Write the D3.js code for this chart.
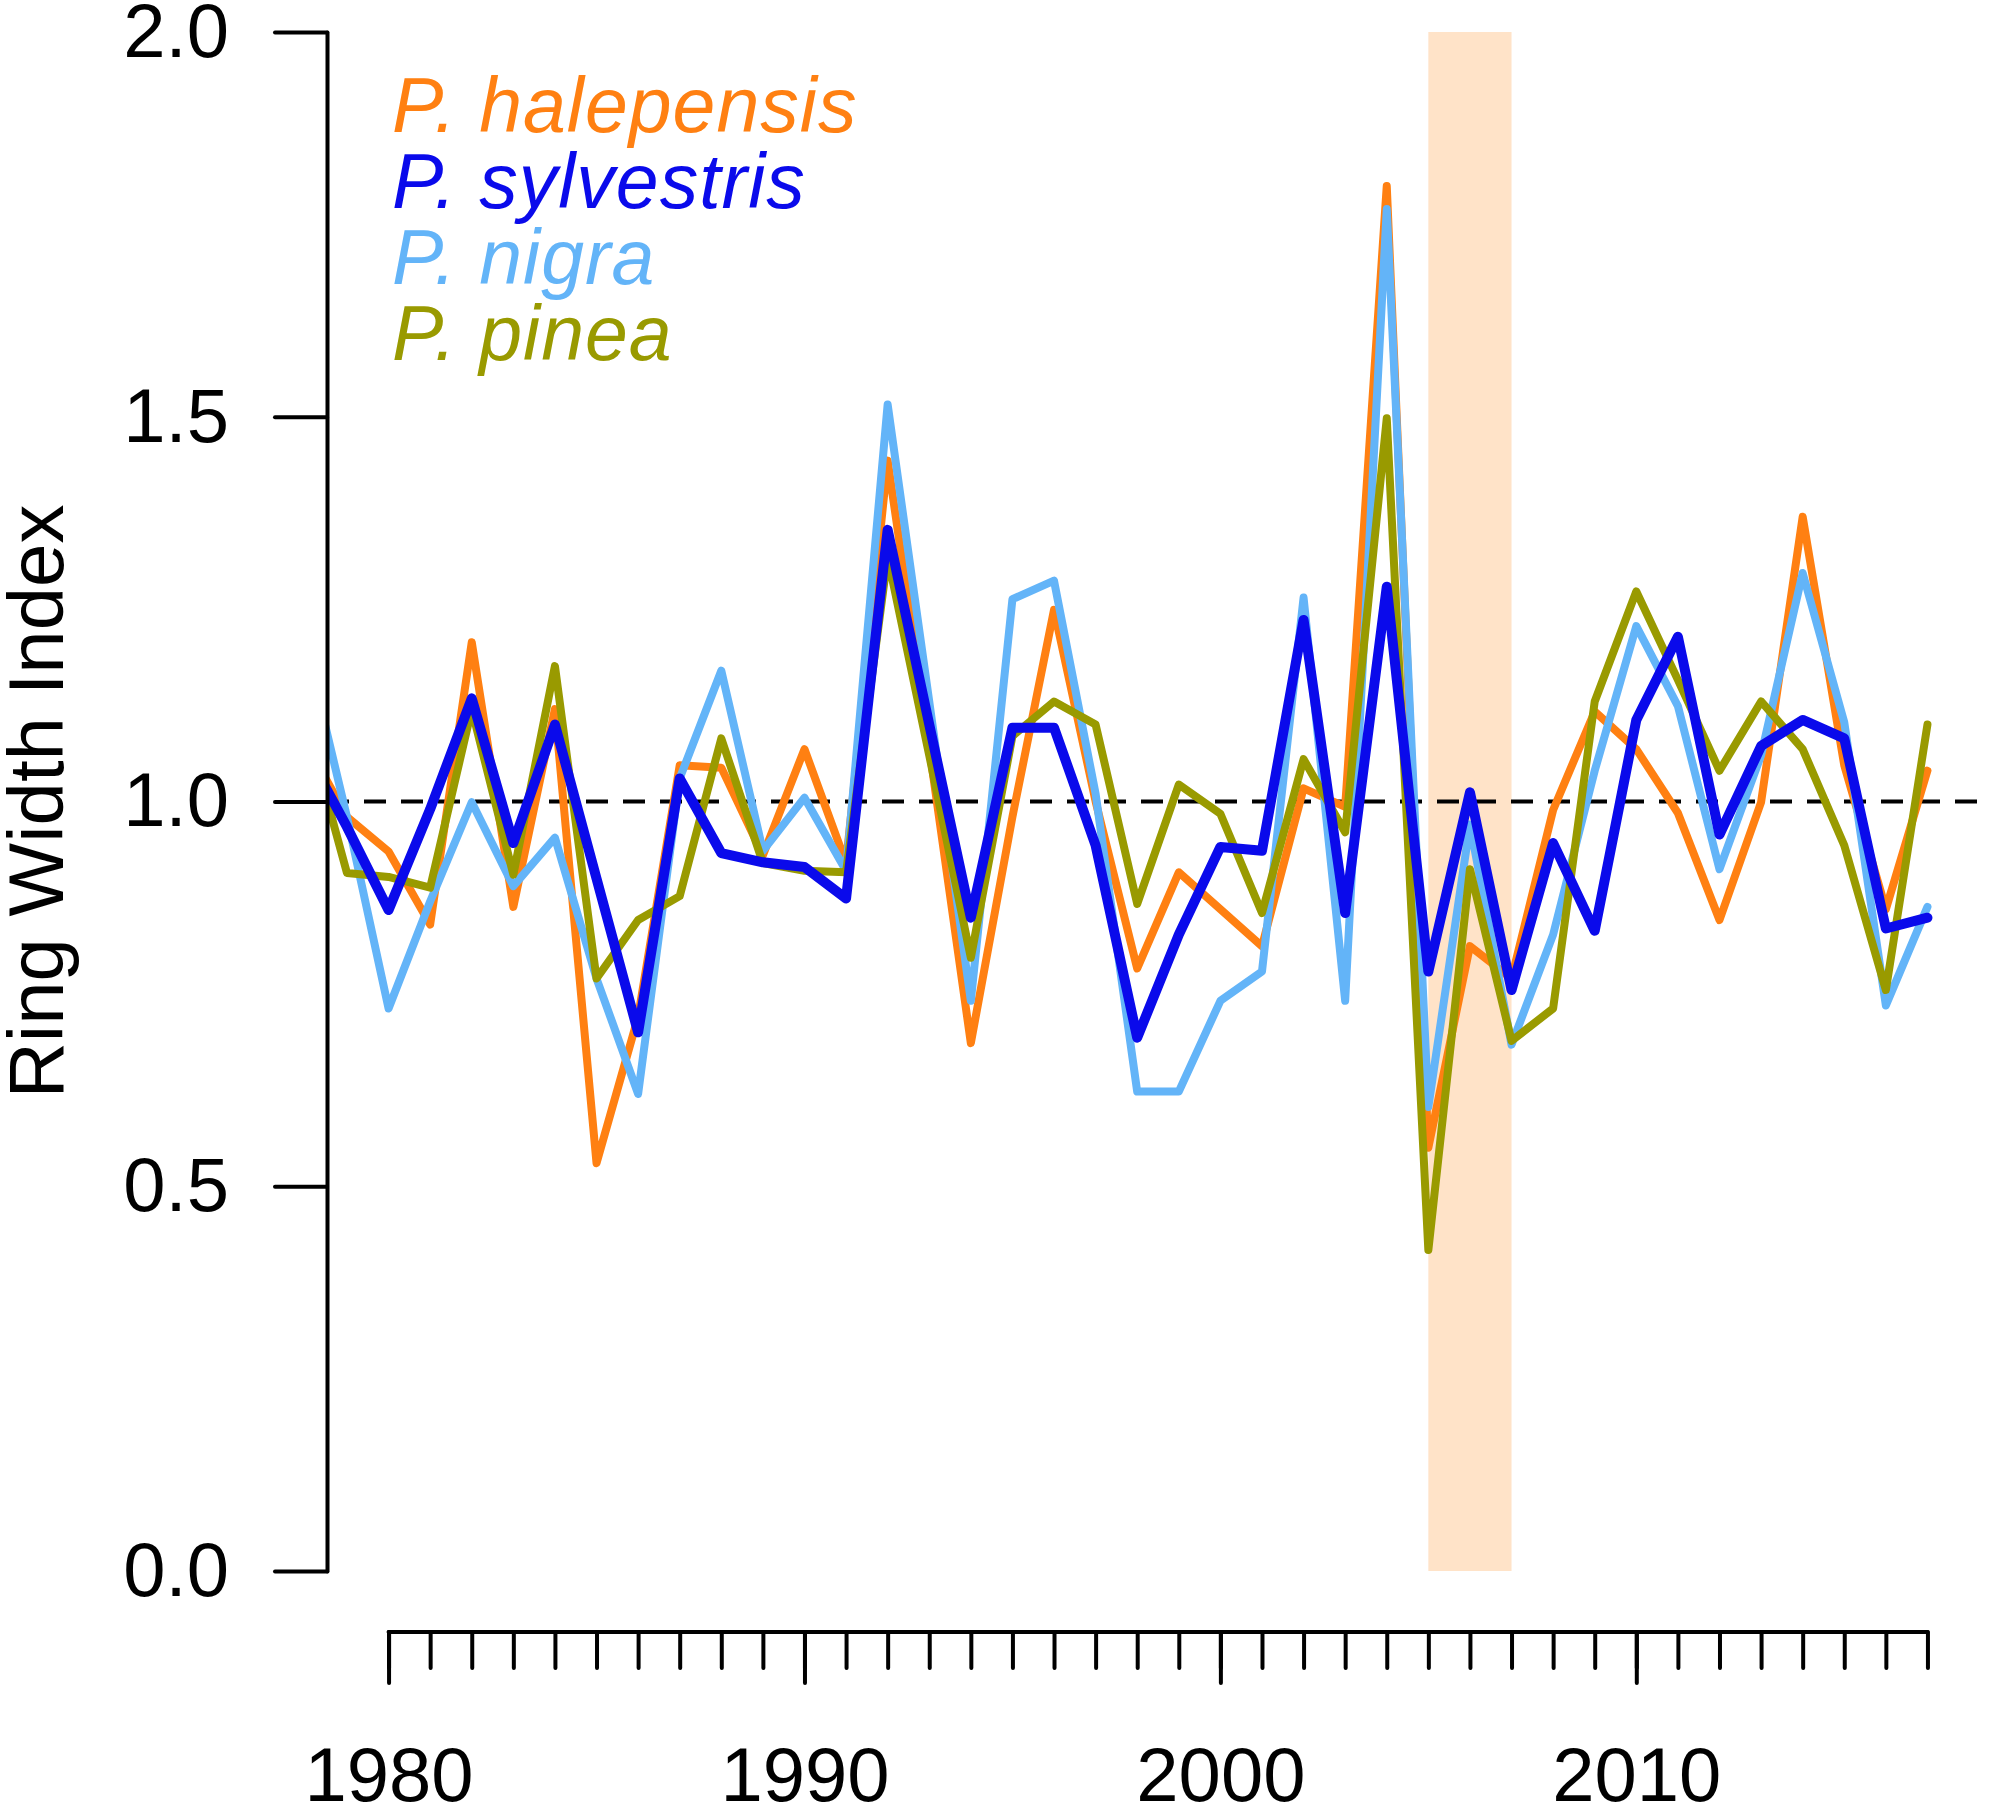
<!DOCTYPE html>
<html>
<head>
    <meta charset="utf-8">
    <title>Ring Width Index - Pinus species</title>
    <script src="https://cdn.jsdelivr.net/npm/d3@7"></script>
    <style>
        body { margin: 0; background: #fff; }
        text { font-family: "Liberation Sans", Arial, sans-serif; }
    </style>
</head>
<body>
    <div id="drawArea"></div>
    <script>
        // years of the chronologies (1978 is only partly visible, cut at the y axis)
        var years = [1978, 1979, 1980, 1981, 1982, 1983, 1984, 1985, 1986, 1987,
            1988, 1989, 1990, 1991, 1992, 1993, 1994, 1995, 1996, 1997,
            1998, 1999, 2000, 2001, 2002, 2003, 2004, 2005, 2006, 2007,
            2008, 2009, 2010, 2011, 2012, 2013, 2014, 2015, 2016, 2017];

        var halepensis = [1.077, 0.98, 0.935, 0.84, 1.207, 0.863, 1.12, 0.53, 0.72, 1.047,
            1.044, 0.93, 1.068, 0.92, 1.443, 1.07, 0.686, 0.98, 1.249, 1.0,
            0.783, 0.908, 0.86, 0.812, 1.017, 0.993, 1.80, 0.55, 0.812, 0.77,
            0.989, 1.117, 1.068, 0.985, 0.846, 0.999, 1.37, 1.047, 0.86, 1.04];

        var sylvestris = [1.067, 0.967, 0.859, 0.99, 1.134, 0.946, 1.10, 0.90, 0.70, 1.03,
            0.933, 0.921, 0.915, 0.874, 1.353, 1.10, 0.849, 1.096, 1.096, 0.943,
            0.693, 0.827, 0.941, 0.936, 1.236, 0.855, 1.279, 0.779, 1.012, 0.755,
            0.946, 0.832, 1.106, 1.214, 0.957, 1.072, 1.106, 1.082, 0.835, 0.849];

        var nigra = [1.207, 0.98, 0.731, 0.87, 0.999, 0.89, 0.953, 0.77, 0.62, 1.03,
            1.17, 0.936, 1.005, 0.91, 1.516, 1.13, 0.741, 1.263, 1.287, 1.01,
            0.623, 0.623, 0.741, 0.779, 1.265, 0.741, 1.77, 0.603, 0.97, 0.684,
            0.827, 1.04, 1.228, 1.124, 0.912, 1.06, 1.297, 1.103, 0.735, 0.863];

        var pinea = [1.105, 0.907, 0.902, 0.888, 1.12, 0.905, 1.176, 0.77, 0.846, 0.877,
            1.082, 0.92, 0.91, 0.908, 1.318, 1.06, 0.797, 1.085, 1.13, 1.10,
            0.867, 1.022, 0.984, 0.855, 1.055, 0.96, 1.498, 0.417, 0.912, 0.689,
            0.731, 1.13, 1.273, 1.158, 1.04, 1.13, 1.068, 0.943, 0.755, 1.10];

        var speciesNames = ['P. halepensis', 'P. sylvestris', 'P. nigra', 'P. pinea'];
        var speciesColors = ['#FF8012', '#0A0AEB', '#63B4F8', '#999A00'];

        var yTicks = [0, 0.5, 1.0, 1.5, 2.0];
        var xTicks = d3.range(1980, 2018);
        var xLabels = [1980, 1990, 2000, 2010];
        var droughtYears = [2005, 2007];

        var width = 1995, height = 1811;

        var svg = d3.select('#drawArea').append('svg')
            .attr('width', width)
            .attr('height', height);

        // R style: x limits 1980-2017 widened by 4%
        var x = d3.scaleLinear().domain([1978.52, 2018.48]).range([327, 1989]);
        var y = d3.scaleLinear().domain([0, 2]).range([1571, 32]);

        svg.append('clipPath').attr('id', 'plotClip')
            .append('rect')
            .attr('x', x.range()[0]).attr('y', 0)
            .attr('width', x.range()[1] - x.range()[0]).attr('height', height);

        // shaded drought period
        svg.append('rect')
            .attr('x', x(droughtYears[0]))
            .attr('y', y(2))
            .attr('width', x(droughtYears[1]) - x(droughtYears[0]))
            .attr('height', y(0) - y(2))
            .style('fill', '#FFE3C8');

        // reference line at 1
        svg.append('line')
            .attr('x1', x.range()[0]).attr('x2', x.range()[1])
            .attr('y1', y(1)).attr('y2', y(1))
            .style('stroke', '#000')
            .style('stroke-width', 4)
            .style('stroke-dasharray', '22,15');

        var series = [
            { name: speciesNames[0], values: halepensis, color: speciesColors[0], w: 8 },
            { name: speciesNames[2], values: nigra, color: speciesColors[2], w: 8 },
            { name: speciesNames[3], values: pinea, color: speciesColors[3], w: 8 },
            { name: speciesNames[1], values: sylvestris, color: speciesColors[1], w: 10 }
        ];

        var line = d3.line()
            .x(function (d, i) { return x(years[i]); })
            .y(function (d) { return y(d); });

        svg.append('g')
            .attr('clip-path', 'url(#plotClip)')
            .selectAll('path')
            .data(series)
            .enter()
            .append('path')
            .attr('d', function (s) { return line(s.values); })
            .style('fill', 'none')
            .style('stroke', function (s) { return s.color; })
            .style('stroke-width', function (s) { return s.w; })
            .style('stroke-linejoin', 'round')
            .style('stroke-linecap', 'round');

        // y axis
        var yAxis = svg.append('g')
            .attr('transform', 'translate(' + x.range()[0] + ',0)')
            .call(d3.axisLeft(y)
                .tickValues(yTicks)
                .tickFormat(d3.format('.1f'))
                .tickSize(52)
                .tickSizeOuter(0)
                .tickPadding(46));

        // x axis, drawn apart below the plot: every year a short tick, decades long
        var xAxisMinor = svg.append('g')
            .attr('transform', 'translate(0,1632)')
            .call(d3.axisBottom(x)
                .tickValues(xTicks)
                .tickFormat('')
                .tickSize(36)
                .tickSizeOuter(0));
        xAxisMinor.select('.domain')
            .attr('d', 'M' + x(xTicks[0]) + ',0H' + x(xTicks[xTicks.length - 1]));

        var xAxisMajor = svg.append('g')
            .attr('transform', 'translate(0,1632)')
            .call(d3.axisBottom(x)
                .tickValues(xLabels)
                .tickFormat(d3.format('d'))
                .tickSize(51)
                .tickSizeOuter(0)
                .tickPadding(64));
        xAxisMajor.select('.domain').remove();

        svg.selectAll('.tick line, .domain')
            .style('stroke', '#000')
            .style('stroke-width', 4)
            .style('stroke-linecap', 'round');
        svg.selectAll('.tick text')
            .style('font-family', '"Liberation Sans", Arial, sans-serif')
            .style('font-size', '76px')
            .style('fill', '#000');

        // axis title
        svg.append('text')
            .attr('transform', 'translate(63,' + ((y(0) + y(2)) / 2) + ') rotate(-90)')
            .attr('text-anchor', 'middle')
            .style('font-size', '78px')
            .style('fill', '#000')
            .text('Ring Width Index');

        // legend (no box, coloured text)
        svg.append('g').selectAll('text')
            .data(speciesNames)
            .enter()
            .append('text')
            .attr('x', 392)
            .attr('y', function (d, i) { return 132 + i * 76; })
            .style('font-size', '77px')
            .style('font-style', 'italic')
            .style('letter-spacing', '1px')
            .style('fill', function (d, i) { return speciesColors[i]; })
            .text(function (d) { return d; });
    </script>
</body>
</html>
